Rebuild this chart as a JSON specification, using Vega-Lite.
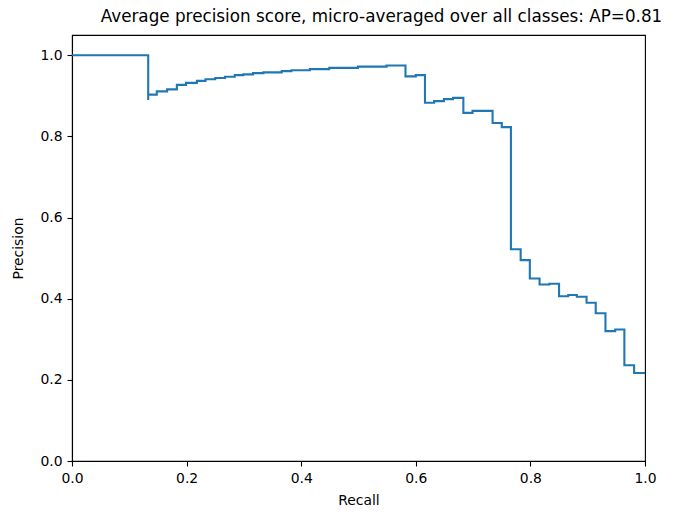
{
  "$schema": "https://vega.github.io/schema/vega-lite/v6.json",
  "width": 573,
  "height": 426,
  "autosize": {"type": "none"},
  "padding": {"left": 72, "top": 35, "right": 34, "bottom": 53},
  "background": "white",
  "config": {
    "font": "DejaVu Sans",
    "view": {"stroke": "black", "strokeWidth": 1.1},
    "axis": {
      "grid": false,
      "domainColor": "black",
      "domainWidth": 1.1,
      "tickColor": "black",
      "tickSize": 5,
      "tickWidth": 1.1,
      "labelFont": "DejaVu Sans",
      "labelFontSize": 13.9,
      "labelColor": "black",
      "labelPadding": 5,
      "labelFlush": false,
      "titleFont": "DejaVu Sans",
      "titleFontSize": 13.9,
      "titleFontWeight": "normal",
      "titleColor": "black"
    }
  },
  "title": {
    "text": "Average precision score, micro-averaged over all classes: AP=0.81",
    "font": "DejaVu Sans",
    "fontSize": 16.8,
    "fontWeight": "normal",
    "color": "black",
    "anchor": "middle",
    "dx": 23,
    "offset": 9
  },
  "data": {
    "values": [
      {"i": 0, "recall": 0.0, "precision": 1.0},
      {"i": 1, "recall": 0.133, "precision": 0.89},
      {"i": 2, "recall": 0.133, "precision": 0.903},
      {"i": 3, "recall": 0.148, "precision": 0.911},
      {"i": 4, "recall": 0.166, "precision": 0.916},
      {"i": 5, "recall": 0.183, "precision": 0.927},
      {"i": 6, "recall": 0.199, "precision": 0.932},
      {"i": 7, "recall": 0.218, "precision": 0.937},
      {"i": 8, "recall": 0.233, "precision": 0.941},
      {"i": 9, "recall": 0.25, "precision": 0.944},
      {"i": 10, "recall": 0.267, "precision": 0.947},
      {"i": 11, "recall": 0.284, "precision": 0.951},
      {"i": 12, "recall": 0.299, "precision": 0.953},
      {"i": 13, "recall": 0.316, "precision": 0.956},
      {"i": 14, "recall": 0.334, "precision": 0.958},
      {"i": 15, "recall": 0.366, "precision": 0.961},
      {"i": 16, "recall": 0.383, "precision": 0.963},
      {"i": 17, "recall": 0.415, "precision": 0.966},
      {"i": 18, "recall": 0.449, "precision": 0.969},
      {"i": 19, "recall": 0.499, "precision": 0.972},
      {"i": 20, "recall": 0.549, "precision": 0.975},
      {"i": 21, "recall": 0.582, "precision": 0.948},
      {"i": 22, "recall": 0.6, "precision": 0.951},
      {"i": 23, "recall": 0.616, "precision": 0.883},
      {"i": 24, "recall": 0.632, "precision": 0.887},
      {"i": 25, "recall": 0.649, "precision": 0.892},
      {"i": 26, "recall": 0.665, "precision": 0.895},
      {"i": 27, "recall": 0.683, "precision": 0.858},
      {"i": 28, "recall": 0.699, "precision": 0.863},
      {"i": 29, "recall": 0.734, "precision": 0.833},
      {"i": 30, "recall": 0.75, "precision": 0.823},
      {"i": 31, "recall": 0.766, "precision": 0.522},
      {"i": 32, "recall": 0.783, "precision": 0.495},
      {"i": 33, "recall": 0.799, "precision": 0.45},
      {"i": 34, "recall": 0.816, "precision": 0.435},
      {"i": 35, "recall": 0.833, "precision": 0.437},
      {"i": 36, "recall": 0.85, "precision": 0.406},
      {"i": 37, "recall": 0.866, "precision": 0.409},
      {"i": 38, "recall": 0.881, "precision": 0.405},
      {"i": 39, "recall": 0.898, "precision": 0.39},
      {"i": 40, "recall": 0.914, "precision": 0.364},
      {"i": 41, "recall": 0.931, "precision": 0.32},
      {"i": 42, "recall": 0.948, "precision": 0.324},
      {"i": 43, "recall": 0.964, "precision": 0.236},
      {"i": 44, "recall": 0.981, "precision": 0.217},
      {"i": 45, "recall": 1.0, "precision": 0.217}
    ]
  },
  "mark": {"type": "line", "interpolate": "step-after", "color": "#1f77b4", "strokeWidth": 2.1},
  "encoding": {
    "x": {
      "field": "recall",
      "type": "quantitative",
      "title": "Recall",
      "scale": {"domain": [0, 1], "nice": false, "zero": false},
      "axis": {"values": [0, 0.2, 0.4, 0.6, 0.8, 1.0], "format": ".1f", "titlePadding": 9}
    },
    "y": {
      "field": "precision",
      "type": "quantitative",
      "title": "Precision",
      "scale": {"domain": [0, 1.05], "nice": false},
      "axis": {"values": [0, 0.2, 0.4, 0.6, 0.8, 1.0], "format": ".1f", "titlePadding": 14}
    },
    "order": {"field": "i", "type": "quantitative"}
  }
}
